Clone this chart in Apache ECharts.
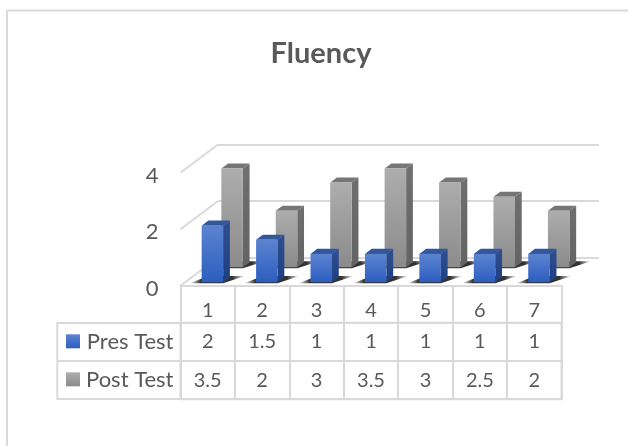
<!DOCTYPE html>
<html>
<head>
<meta charset="utf-8">
<title>Fluency</title>
<script src="https://cdn.jsdelivr.net/npm/echarts@6/dist/echarts.min.js"></script>
<style>
html,body{margin:0;padding:0;background:#fff}
#chart{width:628px;height:446px}
</style>
</head>
<body>
<div id="chart"></div>
<script>
//数据
var categories = ['1','2','3','4','5','6','7'];
var preTest = [2,1.5,1,1,1,1,1];
var postTest = [3.5,2,3,3.5,3,2.5,2];
var rowNames = ['Pres Test','Post Test'];
var yTicks = [0,2,4];

var depthX = 37.5, depthY = 28.2;	//3D偏移
var lineColor = '#d9d9d9', textColor = '#595959';

function grad(a,b){
	return new echarts.graphic.LinearGradient(0,0,0,1,[{offset:0,color:a},{offset:1,color:b}]);
}
var blue = {front:grad('#5c83d0','#2c5ec0'),side:grad('#2f4f90','#1e3f82'),top:'#34579c'};
var grey = {front:grad('#adadad','#8b8b8b'),side:grad('#6f6f6f','#636363'),top:'#767676'};

//画一根3D柱子
function bar3d(colors,near,thick){
	return function(params,api){
		var p = api.coord([api.value(0),api.value(1)]);
		var zero = api.coord([api.value(0),0]);
		var w = api.size([1,0])[0]*0.395;
		var dx = depthX*thick, dy = depthY*thick;
		var l = p[0]-w/2+depthX*near, r = l+w;
		var b = zero[1]-depthY*near, t = p[1]-depthY*near;
		return {type:'group',silent:true,children:[
			{type:'polygon',shape:{points:[[l-12,b+1],[r,b+1],[r+dx+15,b-dy-1],[l+dx,b-dy-1]]},
				style:{fill:new echarts.graphic.LinearGradient(0,0,1,0,[
					{offset:0,color:'rgba(40,40,40,0)'},{offset:0.2,color:'rgba(40,40,40,0.95)'},
					{offset:0.78,color:'rgba(40,40,40,0.95)'},{offset:1,color:'rgba(40,40,40,0)'}])}},
			{type:'polygon',shape:{points:[[r,t],[r+dx,t-dy],[r+dx,b-dy],[r,b]]},style:{fill:colors.side}},
			{type:'polygon',shape:{points:[[l,t],[l+dx,t-dy],[r+dx,t-dy],[r,t]]},style:{fill:colors.top}},
			{type:'rect',shape:{x:l,y:t,width:w,height:b-t},style:{fill:colors.front}}
		]};
	};
}

function pairs(arr){
	return arr.map(function(v,i){return [i,v];});
}

//表格里的数字和图例色块
function cellRender(params,api){
	return {type:'text',silent:true,style:{
		x:api.coord([api.value(0),api.value(1)])[0],
		y:api.coord([api.value(0),api.value(1)])[1],
		text:String(api.value(2)),align:'center',verticalAlign:'middle',
		fill:textColor,font:'20px Lato'
	}};
}
var cells = [];
preTest.forEach(function(v,i){cells.push([i,0,v]);});
postTest.forEach(function(v,i){cells.push([i,1,v]);});

var option = {
	animation:false,
	backgroundColor:'#fff',
	textStyle:{fontFamily:'Lato'},
	title:{text:'Fluency',left:316,top:34,textAlign:'center',
		textStyle:{fontFamily:'Lato',fontSize:29,fontWeight:'bold',color:textColor}},
	grid:[
		{left:180.5,top:172.7,width:381,height:113},
		{left:218,top:144.5,width:381,height:113},
		{left:180.5,top:322.7,width:381,height:76.5,show:true,borderColor:lineColor,borderWidth:2,backgroundColor:'transparent'}
	],
	xAxis:[
		{gridIndex:0,type:'category',data:categories,
			axisLine:{lineStyle:{color:lineColor,width:2}},
			axisTick:{show:true,length:37,lineStyle:{color:lineColor,width:2}},
			axisLabel:{color:textColor,fontSize:20,margin:15}},
		{gridIndex:1,type:'category',data:categories,show:false},
		{gridIndex:2,type:'category',data:categories,
			axisLine:{show:false},axisTick:{show:false},axisLabel:{show:false},
			splitLine:{show:true,lineStyle:{color:lineColor,width:2}}}
	],
	yAxis:[
		{gridIndex:0,type:'value',min:0,max:4,interval:2,
			axisLine:{show:false},axisTick:{show:false},splitLine:{show:false},
			axisLabel:{color:textColor,fontSize:22,margin:22,verticalAlign:'top',lineHeight:6}},
		{gridIndex:1,type:'value',min:0,max:4,interval:2,
			axisLine:{show:false},axisTick:{show:false},axisLabel:{show:false},
			splitLine:{show:true,lineStyle:{color:lineColor,width:2}}},
		{gridIndex:2,type:'category',data:rowNames,inverse:true,
			axisLine:{show:false},
			axisTick:{show:true,length:123,lineStyle:{color:lineColor,width:2}},
			axisLabel:{color:textColor,fontSize:22,margin:7},
			splitLine:{show:true,lineStyle:{color:lineColor,width:2}}}
	],
	graphic:[
		{type:'line',shape:{x1:7,y1:10.5,x2:628,y2:10.5},style:{stroke:lineColor,lineWidth:2}},
		{type:'line',shape:{x1:7,y1:10.5,x2:7,y2:446},style:{stroke:lineColor,lineWidth:2}},
		{type:'line',shape:{x1:57.3,y1:322,x2:57.3,y2:400},style:{stroke:lineColor,lineWidth:2}},
		{type:'rect',shape:{x:66,y:334.3,width:14,height:14},style:{fill:grad('#5c83d0','#2c5ec0')}},
		{type:'rect',shape:{x:66,y:372.3,width:14,height:14},style:{fill:grad('#adadad','#8b8b8b')}}
	],
	series:[
		//左侧斜线
		{type:'custom',xAxisIndex:0,yAxisIndex:0,silent:true,clip:false,
			data:yTicks.map(function(v){return [0,v];}),encode:{x:0,y:1},
			renderItem:function(params,api){
				var y = api.coord([0,api.value(1)])[1];
				var x = params.coordSys.x;
				return {type:'line',shape:{x1:x,y1:y,x2:x+depthX,y2:y-depthY},
					style:{stroke:lineColor,lineWidth:2}};
			}},
		{name:'Post Test',type:'custom',xAxisIndex:0,yAxisIndex:0,clip:false,z:3,
			data:pairs(postTest),encode:{x:0,y:1},renderItem:bar3d(grey,0.65,0.18)},
		{name:'Pres Test',type:'custom',xAxisIndex:0,yAxisIndex:0,clip:false,z:4,
			data:pairs(preTest),encode:{x:0,y:1},renderItem:bar3d(blue,0.125,0.18)},
		{type:'custom',xAxisIndex:2,yAxisIndex:2,clip:false,z:5,
			data:cells,encode:{x:0,y:1},renderItem:cellRender}
	]
};

var chart = echarts.init(document.getElementById('chart'));
chart.setOption(option);
</script>
</body>
</html>
